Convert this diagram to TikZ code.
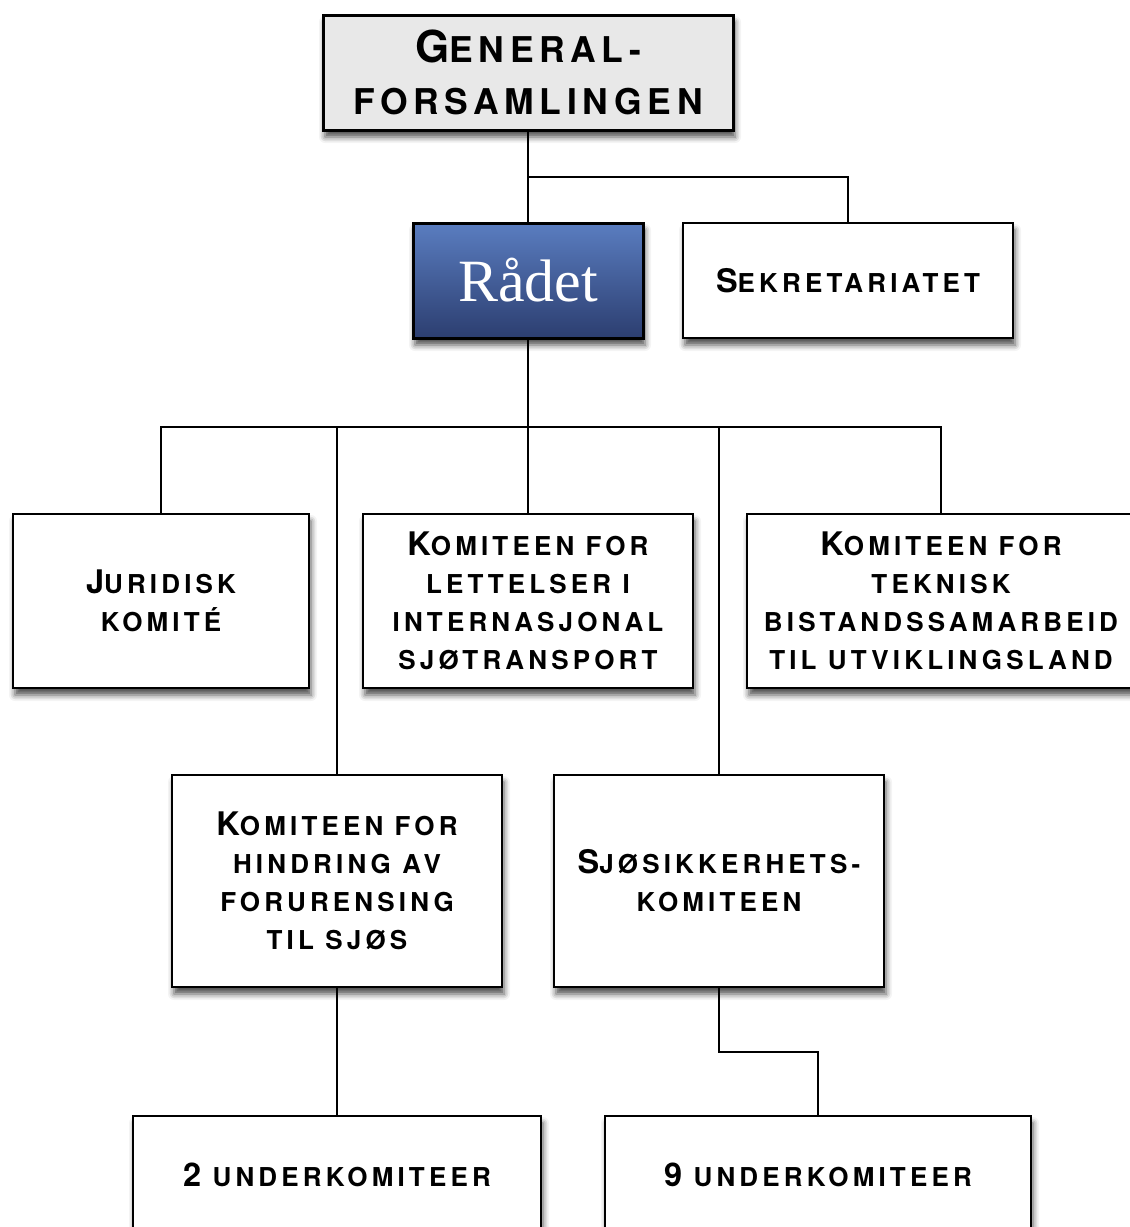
\documentclass[tikz,border=0pt]{standalone}
\usepackage{fontspec}
\setmainfont{TeX Gyre Heros}[LetterSpace=16]
\newfontfamily\rfont{Liberation Serif}
\usetikzlibrary{shadows.blur}
\definecolor{gfgray}{HTML}{E8E8E8}
\definecolor{rtop}{HTML}{5A7DC0}
\definecolor{rbot}{HTML}{2C3E70}
\newcommand\Cap[1]{{\fontsize{32.5}{38}\selectfont #1}}
\newcommand\BigCap[1]{{\fontsize{44}{52}\selectfont #1}}
\tikzset{
  box/.style={draw=black, line width=1.6pt, fill=white, align=center, inner sep=0pt,
    font=\bfseries\fontsize{26}{38}\selectfont,
    blur shadow={shadow xshift=2pt, shadow yshift=-7pt, shadow blur radius=6pt, shadow opacity=70}},
  heavy/.style={line width=3pt},
  conn/.style={line width=1.5pt, draw=black},
}
\begin{document}
\begin{tikzpicture}[x=1pt,y=-1pt]
\useasboundingbox (0,0) rectangle (1130,1227);
\clip (0,0) rectangle (1130,1227);
% coordinates
\coordinate (j1) at (528,177);
\coordinate (j2) at (528,427);
\coordinate (j3) at (719,1052);
% nodes
\node[box, heavy, fill=gfgray, minimum width=410pt, minimum height=115pt,
  font=\bfseries\fontsize{35.5}{52}\selectfont] (gf) at (528,72.5) {\BigCap{G}ENERAL-\\FORSAMLINGEN};
\node[box, heavy, top color=rtop, bottom color=rbot, text=white, minimum width=230pt, minimum height=115pt,
  font=\rfont\fontsize{60}{60}\selectfont] (raadet) at (528,280.5) {Rådet};
\node[box, minimum width=330pt, minimum height=115pt] (sek) at (848,280.5) {\Cap{S}EKRETARIATET};
\node[box, minimum width=296pt, minimum height=174pt] (jur) at (161,601) {\Cap{J}URIDISK\\KOMITÉ};
\node[box, minimum width=330pt, minimum height=174pt] (let) at (528,601) {\Cap{K}OMITEEN FOR\\LETTELSER I\\INTERNASJONAL\\SJØTRANSPORT};
\node[box, minimum width=388pt, minimum height=174pt] (tek) at (941,601) {\Cap{K}OMITEEN FOR\\TEKNISK\\BISTANDSSAMARBEID\\TIL UTVIKLINGSLAND};
\node[box, minimum width=330pt, minimum height=212pt] (hin) at (337,881) {\Cap{K}OMITEEN FOR\\HINDRING AV\\FORURENSING\\TIL SJØS};
\node[box, minimum width=330pt, minimum height=212pt] (sjo) at (719,881) {\Cap{S}JØSIKKERHETS-\\KOMITEEN};
\node[box, minimum width=408pt, minimum height=118pt] (u2) at (337,1175) {\Cap{2} UNDERKOMITEER};
\node[box, minimum width=426pt, minimum height=118pt] (u9) at (818,1175) {\Cap{9} UNDERKOMITEER};
% connectors
\draw[conn] (gf.south) -- (raadet.north);
\draw[conn] (j1) -| (sek.north);
\draw[conn] (raadet.south) -- (let.north);
\draw[conn] (jur.north) |- (j2) -| (tek.north);
\draw[conn] (hin.north) |- (j2);
\draw[conn] (sjo.north) |- (j2);
\draw[conn] (hin.south) -- (u2.north);
\draw[conn] (sjo.south) -- (j3) -| (u9.north);
\end{tikzpicture}
\end{document}
